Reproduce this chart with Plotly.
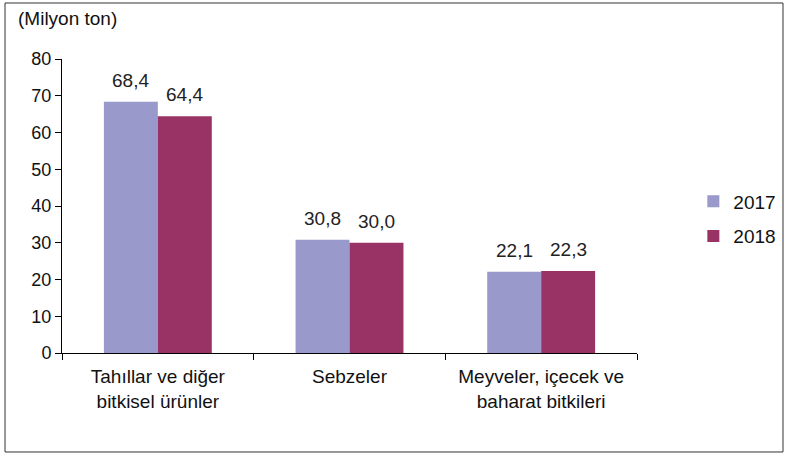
import plotly.graph_objects as go

categories = ["Tahıllar ve diğer<br>bitkisel ürünler", "Sebzeler", "Meyveler, içecek ve<br>baharat bitkileri"]
years = ["2017", "2018"]
values_2017 = [68.4, 30.8, 22.1]
values_2018 = [64.4, 30.0, 22.3]
colors = ["#9999CC", "#993366"]

def fmt(v):
    return f"{v:.1f}".replace(".", ",")

BARGAP = 0.437
half = (1 - BARGAP) / 2  # width of one bar in category units

fig = go.Figure()
annotations = []
for i, (name, vals) in enumerate(zip(years, [values_2017, values_2018])):
    fig.add_trace(go.Bar(
        x=categories, y=vals, name=name,
        marker=dict(color=colors[i], line=dict(width=0)),
        legendgroup=name,
    ))
    offset = (i - 0.5) * half
    for j, v in enumerate(vals):
        annotations.append(dict(
            x=j + offset, y=v, xref="x", yref="y", text=fmt(v),
            showarrow=False, yanchor="bottom", yshift=9,
            font=dict(size=19, color="#222"),
        ))

annotations.append(dict(text="(Milyon ton)", xref="paper", yref="paper",
                        x=-0.08, y=1.139, xanchor="left", yanchor="middle",
                        showarrow=False, font=dict(size=19, color="#111")))

font = "Arial, Liberation Sans, sans-serif"
fig.update_layout(
    width=785, height=454,
    margin=dict(l=62, r=148, t=59, b=101, autoexpand=False),
    paper_bgcolor="white", plot_bgcolor="white",
    font=dict(family=font, size=19, color="#111"),
    barmode="group", bargap=BARGAP, bargroupgap=0,
    showlegend=True,
    legend=dict(x=1.098, y=0.456, xanchor="left", yanchor="middle",
                font=dict(size=19, color="#111"), tracegroupgap=7,
                itemwidth=30, traceorder="grouped"),
    xaxis=dict(showline=True, linecolor="black", linewidth=1,
               ticks="outside", ticklen=6, tickcolor="black",
               tickson="boundaries", showgrid=False, ticklabelstandoff=6,
               tickfont=dict(size=19, color="#111")),
    yaxis=dict(range=[0, 80], dtick=10, showline=True, linecolor="black",
               linewidth=1, ticks="outside", ticklen=6, tickcolor="black",
               showgrid=False, zeroline=False,
               tickfont=dict(size=18, color="#111")),
    annotations=annotations,
    shapes=[dict(type="rect", xref="paper", yref="paper",
                 x0=-0.0991, x1=1.2539, y0=-0.3367, y1=1.1905,
                 line=dict(color="#333", width=1))],
)

fig.write_html("out.html")
